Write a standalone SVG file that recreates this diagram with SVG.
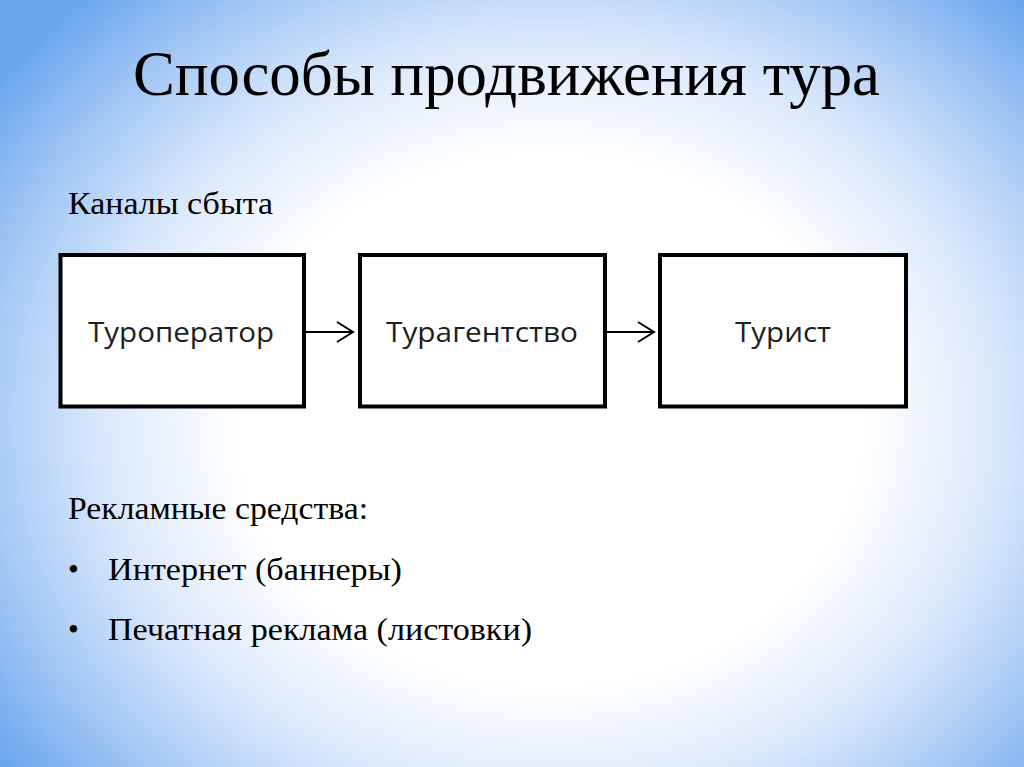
<svg xmlns="http://www.w3.org/2000/svg" width="1024" height="767" viewBox="0 0 1024 767">
<defs>
<radialGradient id="bg" cx="550" cy="420" r="680" gradientUnits="userSpaceOnUse" gradientTransform="translate(550 420) scale(1 0.85) translate(-550 -420)">
<stop offset="0" stop-color="#ffffff"/>
<stop offset="0.46" stop-color="#ffffff"/>
<stop offset="0.66" stop-color="#dae8fb"/>
<stop offset="0.84" stop-color="#a3c7f4"/>
<stop offset="1" stop-color="#6aa6ee"/>
</radialGradient>
<marker id="arr" markerWidth="20" markerHeight="24" refX="17" refY="11" orient="auto" markerUnits="userSpaceOnUse">
<polyline points="1,1 17,11 1,21" fill="none" stroke="#000" stroke-width="2"/>
</marker>
<style>
.box{fill:#ffffff;stroke:#000;stroke-width:4}
.lbl{font-family:"Open Sans","Liberation Sans",sans-serif;font-size:28px;font-weight:500;fill:#1e1e1e;text-anchor:middle}
.serif{font-family:"Liberation Serif","Times New Roman",serif;fill:#000}
.conn{stroke:#000;stroke-width:2;fill:none}
</style>
</defs>
<rect width="1024" height="767" fill="url(#bg)"/>
<text class="serif" x="133" y="95" font-size="64" textLength="747" lengthAdjust="spacingAndGlyphs">Способы продвижения тура</text>
<text class="serif" x="68" y="214" font-size="31" textLength="205" lengthAdjust="spacingAndGlyphs">Каналы сбыта</text>
<g id="node-touroperator">
<rect class="box" x="60.5" y="255" width="243.5" height="151.5"/>
<text class="lbl" x="181" y="342" textLength="186" lengthAdjust="spacingAndGlyphs">Туроператор</text>
</g>
<g id="node-touragency">
<rect class="box" x="360" y="255" width="245" height="151.5"/>
<text class="lbl" x="482" y="342" textLength="192" lengthAdjust="spacingAndGlyphs">Турагентство</text>
</g>
<g id="node-tourist">
<rect class="box" x="660" y="255" width="246" height="151.5"/>
<text class="lbl" x="783" y="342" textLength="96" lengthAdjust="spacingAndGlyphs">Турист</text>
</g>
<g id="connectors">
<line class="conn" x1="306" y1="332" x2="353" y2="332" marker-end="url(#arr)"/>
<line class="conn" x1="607" y1="332" x2="654" y2="332" marker-end="url(#arr)"/>
</g>
<text class="serif" x="68" y="519" font-size="31" textLength="300" lengthAdjust="spacingAndGlyphs">Рекламные средства:</text>
<text class="serif" x="68" y="580" font-size="31">•</text>
<text class="serif" x="108" y="580" font-size="31" textLength="294" lengthAdjust="spacingAndGlyphs">Интернет (баннеры)</text>
<text class="serif" x="68" y="640" font-size="31">•</text>
<text class="serif" x="108" y="640" font-size="31" textLength="424" lengthAdjust="spacingAndGlyphs">Печатная реклама (листовки)</text>
</svg>
